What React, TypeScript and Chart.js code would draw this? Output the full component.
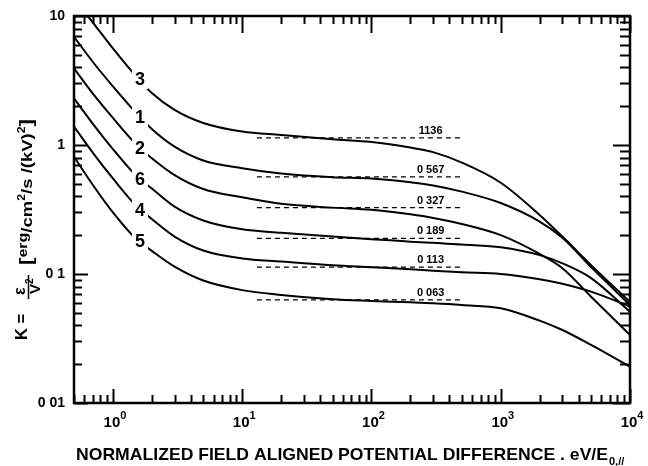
import React, { useEffect, useRef } from "react";
import { Chart, registerables } from "chart.js";

Chart.register(...registerables);

// ---- data ----
const xValues = [0.5, 0.7, 1, 1.5, 2, 3, 5, 10, 20, 50, 100, 200, 300, 500, 1000, 2000, 3000, 5000, 10000];

const curve3 = [13.5, 8.9, 5.6, 3.43, 2.53, 1.87, 1.48, 1.27, 1.195, 1.107, 1.055, 0.955, 0.88, 0.73, 0.51, 0.287, 0.195, 0.117, 0.0606];
const curve1 = [6.9, 4.4, 2.85, 1.79, 1.33, 0.97, 0.758, 0.66, 0.6, 0.562, 0.55, 0.515, 0.485, 0.435, 0.355, 0.255, 0.191, 0.113, 0.0575];
const curve2 = [3.93, 2.5, 1.62, 1.02, 0.79, 0.585, 0.456, 0.393, 0.35, 0.327, 0.315, 0.29, 0.272, 0.244, 0.2, 0.143, 0.111, 0.0667, 0.0336];
const curve6 = [2.3, 1.46, 0.93, 0.583, 0.46, 0.333, 0.26, 0.222, 0.209, 0.195, 0.186, 0.178, 0.175, 0.169, 0.161, 0.14, 0.121, 0.093, 0.051];
const curve4 = [1.39, 0.87, 0.55, 0.341, 0.267, 0.195, 0.152, 0.132, 0.125, 0.117, 0.113, 0.109, 0.106, 0.103, 0.1, 0.091, 0.084, 0.073, 0.056];
const curve5 = [0.81, 0.49, 0.3, 0.188, 0.151, 0.114, 0.089, 0.075, 0.0688, 0.0637, 0.0618, 0.0603, 0.0593, 0.0575, 0.0542, 0.0435, 0.0368, 0.0282, 0.0191];

const curves = [curve3, curve1, curve2, curve6, curve4, curve5];
const curveNames = ["3", "1", "2", "6", "4", "5"];
const curveLabelX = 1.62;
const curveLabelY = [3.25, 1.64, 0.95, 0.545, 0.315, 0.18];

const plateauValues = [1.136, 0.567, 0.327, 0.189, 0.113, 0.063];
const plateauLabels = ["1136", "0 567", "0 327", "0 189", "0 113", "0 063"];
const dashStart = 13;
const dashEnd = 500;
const plateauLabelX = 287;

const yTickValues = [0.01, 0.1, 1, 10];
const yTickLabels = ["0 01", "0 1", "1", "10"];
const xTickExponents = [0, 1, 2, 3, 4];

const xTitle = "NORMALIZED FIELD ALIGNED POTENTIAL DIFFERENCE . eV/E";
const xTitleSub = "0,//";

const FONT = '"Liberation Sans", Arial, sans-serif';

type Run = { t: string; size: number; dy: number };

function drawRuns(ctx: CanvasRenderingContext2D, runs: Run[], x: number, y: number, width?: number) {
  let total = 0;
  const widths = runs.map((r) => {
    ctx.font = `bold ${r.size}px ${FONT}`;
    const w = ctx.measureText(r.t).width;
    total += w;
    return w;
  });
  const sx = width ? width / total : 1;
  ctx.save();
  ctx.translate(x, y);
  ctx.scale(sx, 1);
  ctx.textAlign = "left";
  ctx.textBaseline = "alphabetic";
  let cx = 0;
  runs.forEach((r, i) => {
    ctx.font = `bold ${r.size}px ${FONT}`;
    ctx.fillText(r.t, cx, r.dy);
    cx += widths[i];
  });
  ctx.restore();
}

const decorPlugin = {
  id: "decor",
  afterDatasetsDraw(chart: any) {
    const { ctx, scales } = chart;
    const xs = scales.x;
    const ys = scales.y;
    ctx.save();
    // curve labels with gaps
    curveNames.forEach((name, i) => {
      const px = xs.getPixelForValue(curveLabelX);
      const py = ys.getPixelForValue(curveLabelY[i]);
      ctx.fillStyle = "#fff";
      ctx.fillRect(px - 8, py - 10, 16, 20);
      ctx.fillStyle = "#000";
      ctx.font = `bold 18px ${FONT}`;
      ctx.textAlign = "center";
      ctx.textBaseline = "middle";
      ctx.fillText(name, px, py + 1);
    });
    // plateau labels
    plateauLabels.forEach((lab, i) => {
      const px = xs.getPixelForValue(plateauLabelX);
      const py = ys.getPixelForValue(plateauValues[i]);
      ctx.fillStyle = "#000";
      ctx.font = `bold 11px ${FONT}`;
      ctx.textAlign = "center";
      ctx.textBaseline = "alphabetic";
      ctx.fillText(lab, px, py - 4);
    });
    ctx.restore();
  },
  afterDraw(chart: any) {
    const { ctx, chartArea: a, scales } = chart;
    const xs = scales.x;
    const ys = scales.y;
    ctx.save();
    ctx.strokeStyle = "#000";
    ctx.fillStyle = "#000";
    ctx.lineWidth = 2;
    ctx.beginPath();
    for (let d = -1; d <= 4; d++) {
      for (let m = 1; m <= 9; m++) {
        const v = m * Math.pow(10, d);
        const major = m === 1;
        if (v >= 0.5 && v <= 10000) {
          const px = Math.round(xs.getPixelForValue(v)) + 0.5;
          ctx.moveTo(px, a.bottom);
          ctx.lineTo(px, a.bottom - (major ? 14 : 8));
          ctx.moveTo(px, a.top);
          ctx.lineTo(px, a.top + (major ? 17 : 8));
        }
      }
    }
    for (let d = -2; d <= 1; d++) {
      for (let m = 1; m <= 9; m++) {
        const v = m * Math.pow(10, d);
        const major = m === 1;
        if (v >= 0.01 && v <= 10) {
          const py = Math.round(ys.getPixelForValue(v)) + 0.5;
          ctx.moveTo(a.left, py);
          ctx.lineTo(a.left + (major ? 14 : 8), py);
          ctx.moveTo(a.right, py);
          ctx.lineTo(a.right - (major ? 17 : 10), py);
        }
      }
    }
    ctx.stroke();
    ctx.lineWidth = 2.5;
    ctx.strokeRect(a.left, a.top, a.right - a.left, a.bottom - a.top);

    // y tick labels
    ctx.font = `bold 14px ${FONT}`;
    ctx.textAlign = "right";
    ctx.textBaseline = "middle";
    yTickValues.forEach((v, i) => {
      ctx.fillText(yTickLabels[i], 65, ys.getPixelForValue(v));
    });

    // x tick labels
    xTickExponents.forEach((e) => {
      const px = xs.getPixelForValue(Math.pow(10, e));
      ctx.font = `bold 15px ${FONT}`;
      const w = ctx.measureText("10").width;
      drawRuns(ctx, [
        { t: "10", size: 15, dy: 0 },
        { t: String(e), size: 11, dy: -8 },
      ], px - w / 2 - 1, 427);
    });

    // x title
    drawRuns(ctx, [{ t: xTitle, size: 17, dy: 0 }], 76, 460, 532);
    drawRuns(ctx, [{ t: xTitleSub, size: 11, dy: 0 }], 609, 465);

    // y title (rotated)
    ctx.save();
    ctx.translate(27, 340);
    ctx.rotate(-Math.PI / 2);
    drawRuns(ctx, [{ t: "K =", size: 16, dy: 0 }], 0, 0, 26);
    drawRuns(ctx, [{ t: "\u03b5", size: 16, dy: 0 }], 45, -2);
    ctx.lineWidth = 1.5;
    ctx.beginPath();
    ctx.moveTo(41, 1.5);
    ctx.lineTo(65, 1.5);
    ctx.stroke();
    drawRuns(ctx, [
      { t: "V", size: 15, dy: 0 },
      { t: "2", size: 10, dy: -7 },
    ], 46, 13);
    drawRuns(ctx, [
      { t: "[", size: 18, dy: 0 },
      { t: "erg", size: 13, dy: -5 },
      { t: "/cm", size: 15, dy: 0 },
      { t: "2", size: 10, dy: -7 },
      { t: "/s /(kV)", size: 15, dy: 0 },
      { t: "2", size: 10, dy: -7 },
      { t: "]", size: 18, dy: 0 },
    ], 75, 5, 146);
    ctx.restore();

    ctx.restore();
  },
};

export default function App() {
  const ref = useRef<HTMLCanvasElement>(null);
  useEffect(() => {
    const curveSets = curves.map((arr) => ({
      data: xValues.map((x, i) => ({ x, y: arr[i] })),
      borderColor: "#000",
      borderWidth: 2,
      pointRadius: 0,
      fill: false,
      cubicInterpolationMode: "monotone" as const,
    }));
    const dashSets = plateauValues.map((v) => ({
      data: [
        { x: dashStart, y: v },
        { x: dashEnd, y: v },
      ],
      borderColor: "#000",
      borderWidth: 1.3,
      borderDash: [5, 4],
      pointRadius: 0,
      fill: false,
    }));
    const chart = new Chart(ref.current as HTMLCanvasElement, {
      type: "line",
      data: { datasets: [...dashSets, ...curveSets] as any },
      options: {
        responsive: false,
        devicePixelRatio: 1,
        animation: false,
        layout: { padding: { left: 74, right: 18, top: 16, bottom: 63 } },
        plugins: { legend: { display: false }, tooltip: { enabled: false } },
        scales: {
          x: { type: "logarithmic", min: 0.5, max: 10000, display: false },
          y: { type: "logarithmic", min: 0.01, max: 10, display: false },
        },
      },
      plugins: [decorPlugin],
    });
    return () => chart.destroy();
  }, []);
  return (
    <div style={{ position: "absolute", left: 0, top: 0, width: 648, height: 466, background: "#fff" }}>
      <canvas ref={ref} width={648} height={466} style={{ display: "block", width: 648, height: 466 }} />
    </div>
  );
}
